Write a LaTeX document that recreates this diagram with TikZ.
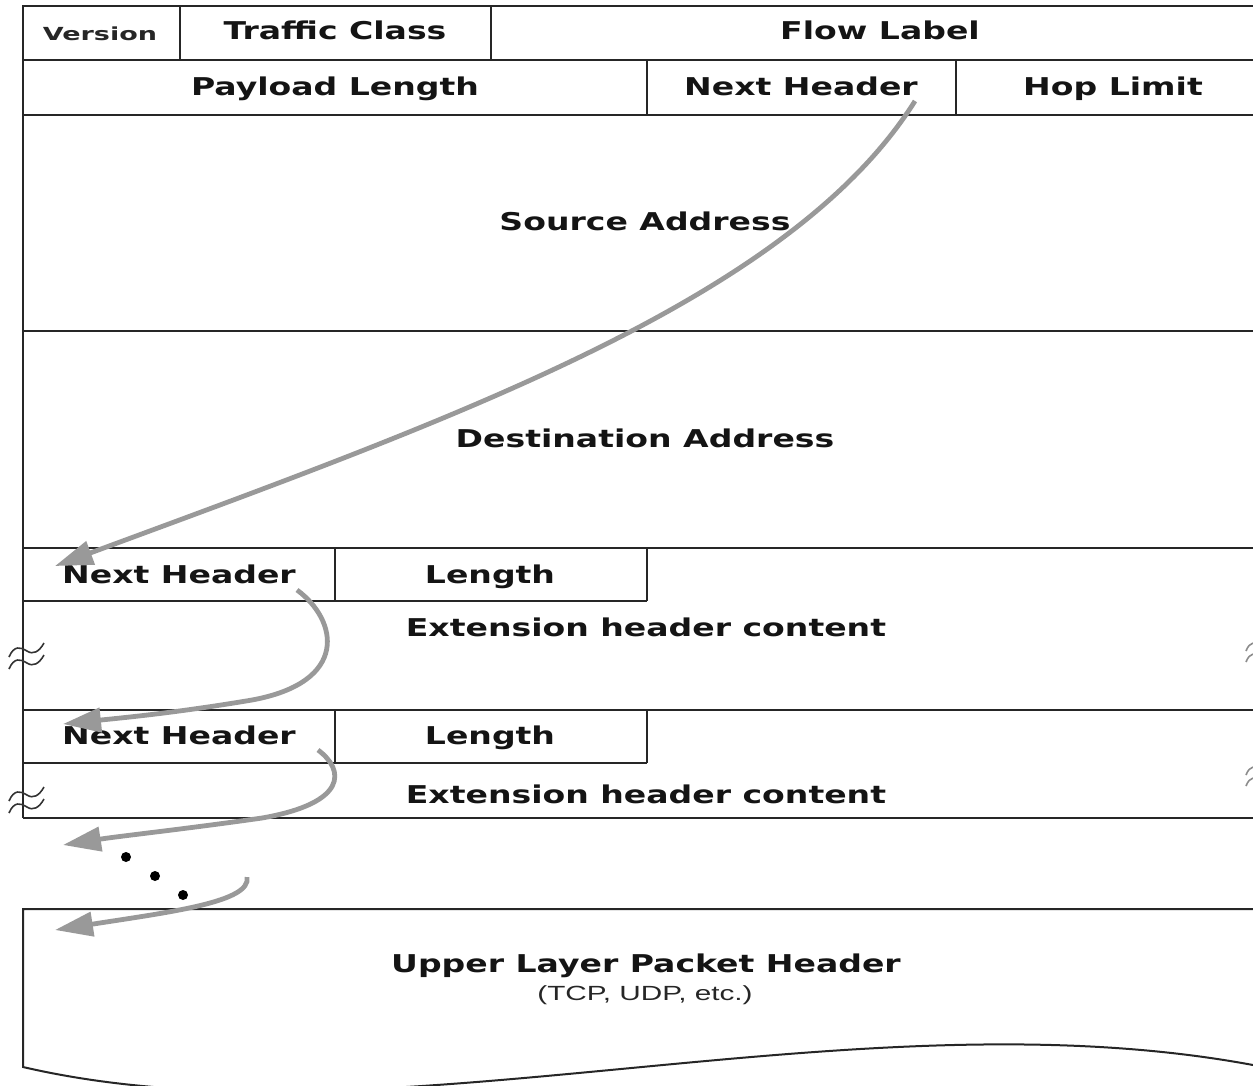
\documentclass[tikz,border=0pt]{standalone}
\usepackage{fontspec}
\newfontfamily\hdrfont[FakeStretch=1.35]{DejaVu Sans}
\newfontfamily\verfont[FakeStretch=1.5]{DejaVu Sans}
\newfontfamily\notefont[FakeStretch=1.45]{Liberation Sans}
\usetikzlibrary{arrows.meta}
\begin{document}
\begin{tikzpicture}[x=1pt,y=-1pt,
  frame/.style={draw=black!85, line width=2.2pt},
  lbl/.style={font=\hdrfont\bfseries\fontsize{24.5}{29}\selectfont, text=black!92, inner sep=0pt, anchor=base},
  verlbl/.style={font=\verfont\bfseries\fontsize{18}{22}\selectfont, text=black!85, inner sep=0pt, anchor=base},
  notelbl/.style={font=\notefont\fontsize{20.5}{24}\selectfont, text=black!85, inner sep=0pt, anchor=base},
  flow/.style={draw=black!40, line width=4.8pt, -{Triangle[length=38pt,width=24pt]}},
  brk/.style={draw=black!80, line width=1.6pt},
  brkr/.style={draw=black!45, line width=1.6pt},
  dotn/.style={circle, fill=black, inner sep=0pt, minimum size=10pt}
]
\useasboundingbox (0,0) rectangle (1253,1085);

% ---- main IPv6 header frame ----
\draw[frame] (1253,6) -- (23,6) -- (23,818);
\draw[frame] (23,60) -- (1253,60);
\draw[frame] (23,115) -- (1253,115);
\draw[frame] (23,331) -- (1253,331);
\draw[frame] (23,548) -- (1253,548);
\draw[frame] (23,601) -- (647,601);
\draw[frame] (23,710) -- (1253,710);
\draw[frame] (23,763) -- (647,763);
\draw[frame] (23,818) -- (1253,818);
\draw[frame] (180,6) -- (180,60);
\draw[frame] (491,6) -- (491,60);
\draw[frame] (647,60) -- (647,115);
\draw[frame] (956,60) -- (956,115);
\draw[frame] (335,548) -- (335,601);
\draw[frame] (647,548) -- (647,601);
\draw[frame] (335,710) -- (335,763);
\draw[frame] (647,710) -- (647,763);

% ---- upper layer box ----
\draw[frame, line width=2pt] (1253,909) -- (23,909) -- (23,1067)
  .. controls (380,1150) and (850,990) .. (1253,1065);

% ---- break marks ----
\foreach \yy in {645,789}{
  \draw[brk] (9,\yy+12) .. controls (14,\yy) and (21,\yy+2) .. (27,\yy+6)
             .. controls (33,\yy+10) and (39,\yy+7) .. (44,\yy-2);
  \draw[brk] (9,\yy+24) .. controls (14,\yy+12) and (21,\yy+14) .. (27,\yy+18)
             .. controls (33,\yy+22) and (39,\yy+19) .. (44,\yy+10);
}
\foreach \yy in {643,767}{
  \draw[brkr] (1246,\yy+8) .. controls (1248,\yy+3) and (1250,\yy+1) .. (1253,\yy);
  \draw[brkr] (1246,\yy+19) .. controls (1248,\yy+14) and (1250,\yy+12) .. (1253,\yy+11);
}

% ---- labels ----
\node[verlbl] (ver) at (100,40.5) {Version};
\node[lbl] (tc) at (335,39) {Traffic Class};
\node[lbl] (fl) at (880,39) {Flow Label};
\node[lbl] (pl) at (335,95) {Payload Length};
\node[lbl] (nh0) at (801,95) {Next Header};
\node[lbl] (hl) at (1113,95) {Hop Limit};
\node[lbl] (src) at (645,230) {Source Address};
\node[lbl] (dst) at (645,447) {Destination Address};
\node[lbl] (nh1) at (179,583) {Next Header};
\node[lbl] (len1) at (490,583) {Length};
\node[lbl] (ext1) at (646,636) {Extension header content};
\node[lbl] (nh2) at (179,744) {Next Header};
\node[lbl] (len2) at (490,744) {Length};
\node[lbl] (ext2) at (646,803) {Extension header content};
\node[lbl] (ulp) at (646,972) {Upper Layer Packet Header};
\node[notelbl] (ulpn) at (645,1000) {(TCP, UDP, etc.)};

% ---- continuation dots ----
\node[dotn] (d1) at (126,857) {};
\node[dotn] (d2) at (155,876) {};
\node[dotn] (d3) at (183,895) {};

% ---- arrow anchor points ----
\coordinate (a0) at (915,101);
\coordinate (t1) at (55,566);
\coordinate (a1) at (297,590);
\coordinate (m1) at (252,700);
\coordinate (t2) at (63,724);
\coordinate (a2) at (318,750);
\coordinate (m2) at (262,818);
\coordinate (t3) at (63,845);
\coordinate (a3) at (247,877);
\coordinate (t4) at (55,930);

% ---- next-header chain arrows ----
\draw[flow] (a0) .. controls (790,300) and (450,420) .. (t1);
\draw[flow] (a1) .. controls (338,620) and (350,682) .. (m1)
                 .. controls (175,713) and (120,718) .. (t2);
\draw[flow] (a2) .. controls (345,770) and (348,803) .. (m2)
                 .. controls (185,829) and (120,836) .. (t3);
\draw[flow] (a3) .. controls (252,902) and (170,912) .. (t4);
\end{tikzpicture}
\end{document}
